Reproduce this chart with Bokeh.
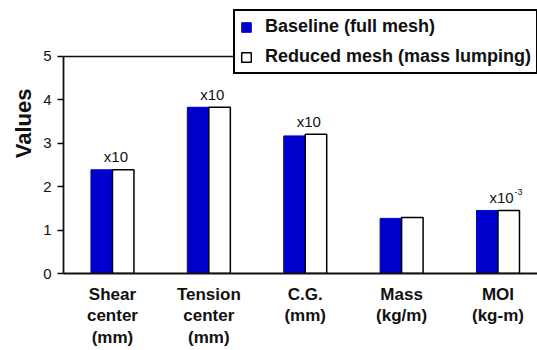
import math
from bokeh.plotting import figure
from bokeh.models import Range1d, FixedTicker, Legend, LegendItem, Span, Title
from bokeh.core.properties import value
from bokeh.embed import file_html
from bokeh.resources import INLINE

categories = ["Shear\ncenter\n(mm)", "Tension\ncenter\n(mm)", "C.G.\n(mm)", "Mass\n(kg/m)", "MOI\n(kg-m)"]
baseline = [2.39, 3.83, 3.17, 1.27, 1.45]
reduced = [2.39, 3.83, 3.21, 1.29, 1.45]
scale_text = ["x10", "x10", "x10", "", "x10"]
scale_exp = ["", "", "", "", "-3"]
y_ticks = [0, 1, 2, 3, 4, 5]
series_names = ["Baseline (full mesh)", "Reduced mesh (mass lumping)"]

FONT = "Liberation Sans"
BLUE = "#0000CC"

n = len(categories)
centers = [i + 0.5 for i in range(n)]
bw = 0.223
x_blue = [c - bw / 2 for c in centers]
x_white = [c + bw / 2 for c in centers]
tops = [max(a, b) for a, b in zip(baseline, reduced)]

p = figure(width=537, height=350, output_backend="svg", toolbar_location=None,
           x_range=Range1d(-0.008, 4.91), y_range=Range1d(0, 6.29),
           min_border_left=63, min_border_right=0, min_border_top=0, min_border_bottom=77)
p.outline_line_color = None
p.grid.visible = False
p.background_fill_color = "white"
p.border_fill_color = "white"

# top border line at the axis maximum
p.add_layout(Span(location=y_ticks[-1], dimension="width", line_color="#111111", line_width=1.5))

r1 = p.vbar(x=x_blue, top=baseline, bottom=0, width=bw, fill_color=BLUE, line_color=BLUE, line_width=1)
r2 = p.vbar(x=x_white, top=reduced, bottom=0, width=bw, fill_color="white", line_color="black", line_width=1.5)

# scale annotations
p.text(x=centers, y=tops, text=scale_text, x_offset=3.5, y_offset=-13,
       text_align="center", text_baseline="alphabetic",
       text_font=value(FONT), text_font_size="15px", text_color="#111111")
p.text(x=centers, y=tops, text=scale_exp, x_offset=16.5, y_offset=-19,
       text_align="left", text_baseline="alphabetic",
       text_font=value(FONT), text_font_size="9px", text_color="#111111")

# y axis
ya = p.yaxis[0]
ya.ticker = FixedTicker(ticks=y_ticks)
ya.bounds = (y_ticks[0], y_ticks[-1])
ya.axis_line_color = "#111111"
ya.axis_line_width = 1.8
ya.major_tick_line_width = 1.5
ya.major_tick_out = 6
ya.major_tick_in = 0
ya.minor_tick_line_color = None
ya.major_label_text_font = FONT
ya.major_label_text_font_size = "15px"
ya.major_label_text_color = "#111111"
ya.major_label_standoff = 6

# x axis
xa = p.xaxis[0]
xa.ticker = FixedTicker(ticks=centers)
xa.major_label_overrides = {c: lab for c, lab in zip(centers, categories)}
xa.axis_line_color = "#111111"
xa.axis_line_width = 1.8
xa.major_tick_line_color = None
xa.minor_tick_line_color = None
xa.major_label_text_font = FONT
xa.major_label_text_font_style = "bold"
xa.major_label_text_font_size = "17px"
xa.major_label_text_line_height = 1.15
xa.major_label_text_color = "#111111"
xa.major_label_standoff = 5

# y axis title
p.add_layout(Title(text="Values", align="right", offset=88, standoff=10,
                   text_font=FONT, text_font_style="bold", text_font_size="22px",
                   text_color="#111111"), "left")

legend = Legend(items=[LegendItem(label=series_names[0], renderers=[r1]),
                       LegendItem(label=series_names[1], renderers=[r2])],
                location=(170, 199), orientation="vertical",
                glyph_width=12, glyph_height=12, label_standoff=13,
                padding=5, spacing=9, label_height=20,
                label_text_font=FONT, label_text_font_style="bold",
                label_text_font_size="18px", label_text_color="#111111",
                border_line_color="black", border_line_width=2, border_line_alpha=1.0,
                background_fill_color="white", background_fill_alpha=1.0)
p.add_layout(legend, "center")

open("out.html", "w").write(file_html(p, INLINE))
